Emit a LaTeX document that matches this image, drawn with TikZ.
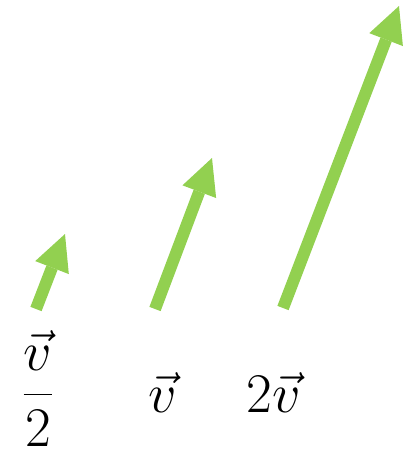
\RequirePackage{fix-cm}
\documentclass[tikz,border=0pt]{standalone}
\usetikzlibrary{arrows.meta}
\definecolor{vgreen}{RGB}{146,208,80}
\begin{document}
\begin{tikzpicture}[x=1pt,y=-1pt,
  vec/.style={draw=vgreen,line width=12pt,line cap=butt,
    -{Triangle[length=36pt,width=36pt,line width=0pt]}},
  lab/.style={inner sep=0pt,anchor=base,font=\fontsize{56}{67}\selectfont}]
\useasboundingbox (0,0) rectangle (414,453);
\coordinate (t1) at (36,309); \coordinate (h1) at (65,234);
\coordinate (t2) at (155,309); \coordinate (h2) at (212,158);
\coordinate (t3) at (283,308); \coordinate (h3) at (399,6);
\draw[vec] (t1) -- (h1);
\draw[vec] (t2) -- (h2);
\draw[vec] (t3) -- (h3);
\node[lab] (l1) at (38,408) {$\displaystyle\frac{\vec{v}}{2}$};
\node[lab] (l2) at (163,412) {$\vec{v}$};
\node[lab] (l3) at (274,412) {$2\vec{v}$};
\end{tikzpicture}
\end{document}
